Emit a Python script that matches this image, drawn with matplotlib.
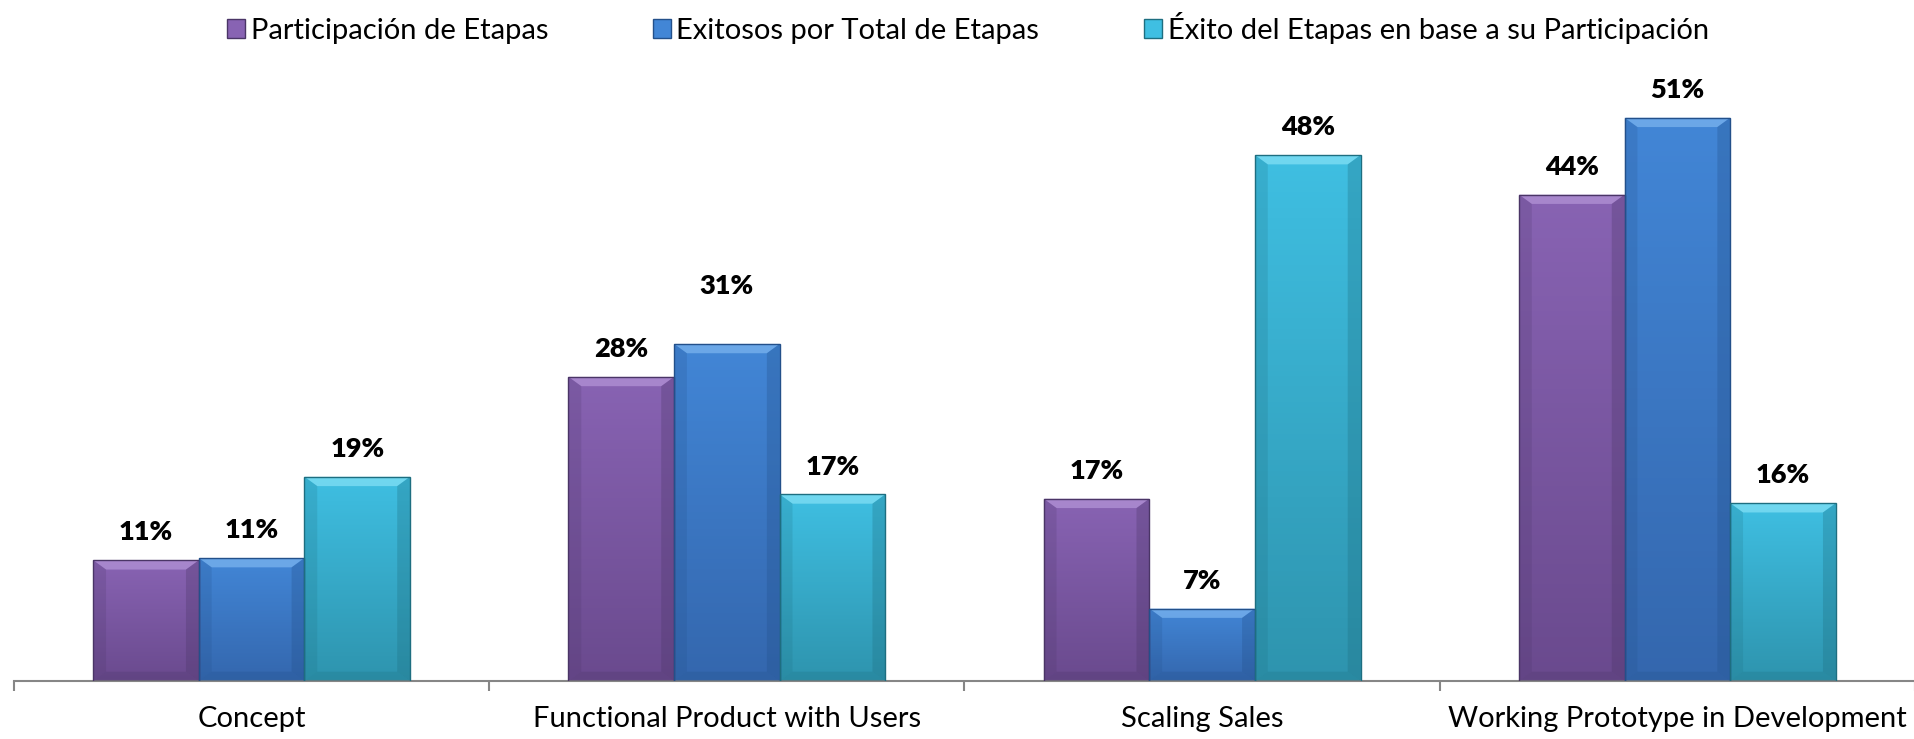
import numpy as np
import matplotlib
matplotlib.use("Agg")
import matplotlib.pyplot as plt
from matplotlib.colors import LinearSegmentedColormap
from matplotlib.patches import Polygon, Patch

plt.rcParams['font.family'] = ['Lato', 'DejaVu Sans']

categories = ["Concept", "Functional Product with Users", "Scaling Sales",
              "Working Prototype in Development"]
series_names = ["Participación de Etapas", "Exitosos por Total de Etapas",
                "Éxito del Etapas en base a su Participación"]
participacion = [11.0, 27.7, 16.6, 44.3]
exitosos = [11.2, 30.7, 6.6, 51.3]
exito_base = [18.6, 17.0, 47.9, 16.2]

# (top colour, bottom colour, bevel highlight, edge)
styles = [
    ("#8863B3", "#6A4A8E", "#B596D8", "#4A3566"),
    ("#4286D6", "#3467AE", "#7DB6F0", "#23508A"),
    ("#3FBFE2", "#2E94AE", "#86E2F6", "#1E6E80"),
]

# label nudges in points (series, category)
label_nudge = {(1, 1): 22}


def gradient_bar(ax, patch, top, bottom, light, edge):
	x0 = patch.get_x()
	w = patch.get_width()
	h = patch.get_height()
	cmap = LinearSegmentedColormap.from_list("g", [bottom, top])
	grad = np.linspace(0, 1, 100).reshape(-1, 1)
	im = ax.imshow(grad, extent=[x0, x0 + w, 0, h], origin='lower', aspect='auto',
	               cmap=cmap, zorder=2)
	im.set_clip_path(patch)
	bx = 0.027
	by = 0.85
	# top bevel
	ax.add_patch(Polygon([(x0, h), (x0 + w, h), (x0 + w - bx, h - by), (x0 + bx, h - by)],
	                     closed=True, facecolor=light, edgecolor='none', alpha=0.7, zorder=3))
	# side bevels
	ax.add_patch(Polygon([(x0, 0), (x0, h), (x0 + bx, h - by), (x0 + bx, by)],
	                     closed=True, facecolor=edge, edgecolor='none', alpha=0.2, zorder=3))
	ax.add_patch(Polygon([(x0 + w, 0), (x0 + w, h), (x0 + w - bx, h - by), (x0 + w - bx, by)],
	                     closed=True, facecolor=edge, edgecolor='none', alpha=0.3, zorder=3))
	ax.add_patch(Polygon([(x0, 0), (x0 + w, 0), (x0 + w - bx, by), (x0 + bx, by)],
	                     closed=True, facecolor=edge, edgecolor='none', alpha=0.25, zorder=3))


fig = plt.figure(figsize=(19.15, 7.39), dpi=100)
ax = fig.add_axes([14 / 1915, 58 / 739, 1901 / 1915, 658.8 / 739])

x = np.arange(len(categories))
w = 1 / 4.5
all_series = [participacion, exitosos, exito_base]
for i, (vals, st) in enumerate(zip(all_series, styles)):
	bars = ax.bar(x + (i - 1) * w, vals, w, color=st[0], edgecolor=st[3], linewidth=1.0, zorder=2)
	for j, (b, v) in enumerate(zip(bars, vals)):
		b.set_facecolor('none')
		gradient_bar(ax, b, *st)
		b.set_zorder(4)
		ax.annotate(f"{round(v)}%", xy=(b.get_x() + b.get_width() / 2, v),
		            xytext=(0, 20 + label_nudge.get((i, j), 0)), textcoords='offset points',
		            ha='center', va='center', fontsize=19.5, fontweight='heavy', color='black')

ax.set_xlim(-0.5, 3.5)
ax.set_ylim(0, 60)
ax.set_yticks([])
for s in ['left', 'right', 'top']:
	ax.spines[s].set_visible(False)
ax.spines['bottom'].set_color('#868686')
ax.spines['bottom'].set_linewidth(1.5)
ax.set_xticks(x)
ax.set_xticklabels(categories, fontsize=21)
ax.set_xticks(np.arange(-0.5, 4, 1), minor=True)
ax.tick_params(axis='x', which='major', length=0, pad=18)
ax.tick_params(axis='x', which='minor', length=7.5, width=1.5, color='#868686')

handles = [Patch(facecolor=st[0], edgecolor=st[3]) for st in styles]
fig.legend(handles, series_names, loc='center', bbox_to_anchor=(968 / 1915, 1 - 28 / 739),
           ncol=3, frameon=False, fontsize=21, handlelength=0.6, handleheight=0.6,
           handletextpad=0.2, columnspacing=3.6)

fig.savefig("out.png", dpi=100)
